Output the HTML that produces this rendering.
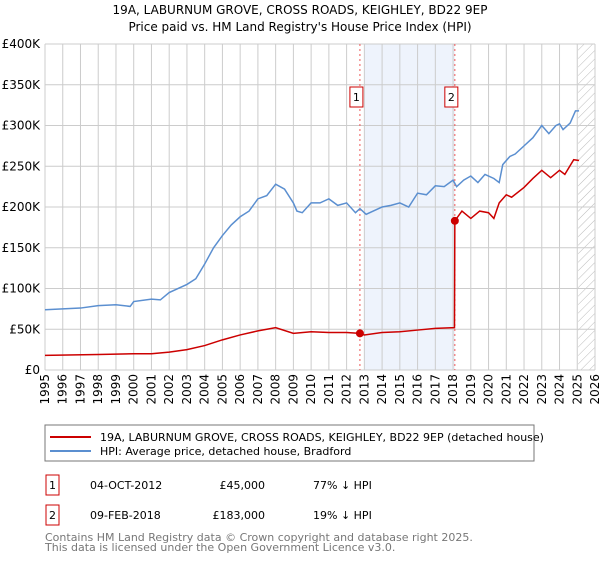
<!DOCTYPE html>
<html><head><meta charset="utf-8"><style>
body{margin:0;background:#fff;font-family:"Liberation Sans","DejaVu Sans",sans-serif;}
svg text{font-family:"DejaVu Sans","Liberation Sans",sans-serif;}
</style></head><body>
<svg id="c" width="600" height="560" xmlns="http://www.w3.org/2000/svg">
<defs><pattern id="hatch" width="6" height="6" patternUnits="userSpaceOnUse" patternTransform="rotate(45)"><line x1="0" y1="0" x2="0" y2="6" stroke="#bbb" stroke-width="1"/></pattern></defs>
<text x="300" y="14" text-anchor="middle" font-size="12">19A, LABURNUM GROVE, CROSS ROADS, KEIGHLEY, BD22 9EP</text>
<text x="300" y="31" text-anchor="middle" font-size="12">Price paid vs. HM Land Registry's House Price Index (HPI)</text>
<g id="grid"></g><g id="marks"></g><g id="axes"></g>
<rect x="45" y="425" width="489" height="36" fill="#fff" stroke="#777"/>
<line x1="50" y1="437" x2="91" y2="437" stroke="#cc0000" stroke-width="2"/>
<text x="100" y="441" font-size="11">19A, LABURNUM GROVE, CROSS ROADS, KEIGHLEY, BD22 9EP (detached house)</text>
<line x1="50" y1="451" x2="91" y2="451" stroke="#5b8fd0" stroke-width="2"/>
<text x="100" y="455" font-size="11">HPI: Average price, detached house, Bradford</text>
<g><rect x="46" y="475" width="13" height="20" fill="none" stroke="#cc0000"/><text x="52.5" y="489" font-size="11" text-anchor="middle">1</text><text x="90" y="489" font-size="11">04-OCT-2012</text><text x="265" y="489" font-size="11" text-anchor="end">£45,000</text><text x="313" y="489" font-size="11">77% ↓ HPI</text></g>
<g><rect x="46" y="505" width="13" height="20" fill="none" stroke="#cc0000"/><text x="52.5" y="519" font-size="11" text-anchor="middle">2</text><text x="90" y="519" font-size="11">09-FEB-2018</text><text x="265" y="519" font-size="11" text-anchor="end">£183,000</text><text x="313" y="519" font-size="11">19% ↓ HPI</text></g>
<text x="45" y="541" font-size="11" fill="#777">Contains HM Land Registry data © Crown copyright and database right 2025.</text>
<text x="45" y="551" font-size="11" fill="#777">This data is licensed under the Open Government Licence v3.0.</text>
</svg>
<script>
const yTicks=[0,50,100,150,200,250,300,350,400];
const yTickLabels=["£0","£50K","£100K","£150K","£200K","£250K","£300K","£350K","£400K"];
const years=[1995,1996,1997,1998,1999,2000,2001,2002,2003,2004,2005,2006,2007,2008,2009,2010,2011,2012,2013,2014,2015,2016,2017,2018,2019,2020,2021,2022,2023,2024,2025,2026];
const hpiT=[1995,1996,1997,1998,1999,1999.8,2000,2001,2001.5,2002,2003,2003.5,2004,2004.5,2005,2005.5,2006,2006.5,2007,2007.5,2008,2008.5,2009,2009.2,2009.5,2010,2010.5,2011,2011.5,2012,2012.5,2012.75,2013.1,2013.5,2014,2014.5,2015,2015.5,2016,2016.5,2017,2017.5,2018,2018.2,2018.6,2019,2019.4,2019.8,2020.3,2020.6,2020.8,2021.2,2021.5,2022,2022.5,2023,2023.4,2023.8,2024,2024.2,2024.6,2024.9,2025.1];
const hpiV=[74,75,76,79,80,78,84,87,86,95,105,112,130,150,165,178,188,195,210,214,228,222,205,195,193,205,205,210,202,205,193,198,191,195,200,202,205,200,217,215,226,225,233,225,233,238,230,240,235,230,252,262,265,275,285,300,290,300,302,295,303,318,318];
const ppT=[1995,1998,2000,2001,2002,2003,2004,2005,2006,2007,2008,2009,2010,2011,2012,2012.75,2013,2014,2015,2016,2017,2018.08,2018.1,2018.5,2019,2019.5,2020,2020.3,2020.6,2021,2021.3,2022,2022.5,2023,2023.5,2024,2024.3,2024.8,2025.1];
const ppV=[18,19,20,20,22,25,30,37,43,48,52,45,47,46,46,45,43,46,47,49,51,52,183,195,186,195,193,186,205,215,212,224,235,245,236,245,240,258,257];
const saleT=[2012.75,2018.1];
const saleV=[45,183];
const saleLabels=["1","2"];
const NS="http://www.w3.org/2000/svg";
const X=t=>45+(t-1995)*(550/31);
const Y=v=>370-v*(326/400);
function mk(tag,attrs,parent){const e=document.createElementNS(NS,tag);for(const k in attrs)e.setAttribute(k,attrs[k]);parent.appendChild(e);return e;}
const grid=document.getElementById('grid'),marks=document.getElementById('marks'),axes=document.getElementById('axes');
let r=mk('rect',{x:X(2013),y:Y(400),width:X(2018.1)-X(2013),height:Y(0)-Y(400),fill:'#eef3fc'},grid);


let h=mk('rect',{x:X(2025.05),y:Y(400),width:595-X(2025.05),height:Y(0)-Y(400),fill:'url(#hatch)'},grid);


yTicks.forEach((v,i)=>{
  mk('line',{x1:45,x2:595,y1:Y(v),y2:Y(v),stroke:'#ccc'},grid);
  const t=mk('text',{x:40,y:Y(v)+4,'text-anchor':'end','font-size':12},axes);t.textContent=yTickLabels[i];
  
  
});
years.forEach(y=>{
  mk('line',{x1:X(y),x2:X(y),y1:Y(400),y2:Y(0),stroke:'#ccc'},grid);
  const t=mk('text',{x:0,y:0,'text-anchor':'end','font-size':12,transform:`translate(${X(y)+4},374) rotate(-90)`},axes);t.textContent=y;
  
  
});
mk('line',{x1:45,x2:45,y1:Y(400),y2:Y(0),stroke:'#ccc'},grid);
function line(T,V,color,name){
  const p=mk('polyline',{points:T.map((t,i)=>X(t)+','+Y(V[i])).join(' '),fill:'none',stroke:color,'stroke-width':1.5},marks);
  
  
}
saleT.forEach((t,i)=>{
  mk('line',{x1:X(t),x2:X(t),y1:Y(400),y2:Y(0),stroke:'#e55','stroke-dasharray':'2,3'},marks);
  const b=mk('rect',{x:X(t)-10,y:87,width:13,height:20,fill:'#fff',stroke:'#cc0000'},marks);
  
  
  const tx=mk('text',{x:X(t)-3.5,y:101,'text-anchor':'middle','font-size':11},marks);tx.textContent=saleLabels[i];
});
line(hpiT,hpiV,'#5b8fd0','hpi-line');
line(ppT,ppV,'#cc0000','property-price-line');
saleT.forEach((t,i)=>{
  const c=mk('circle',{cx:X(t),cy:Y(saleV[i]),r:4,fill:'#cc0000'},marks);
  
  
});
</script>
</body></html>
